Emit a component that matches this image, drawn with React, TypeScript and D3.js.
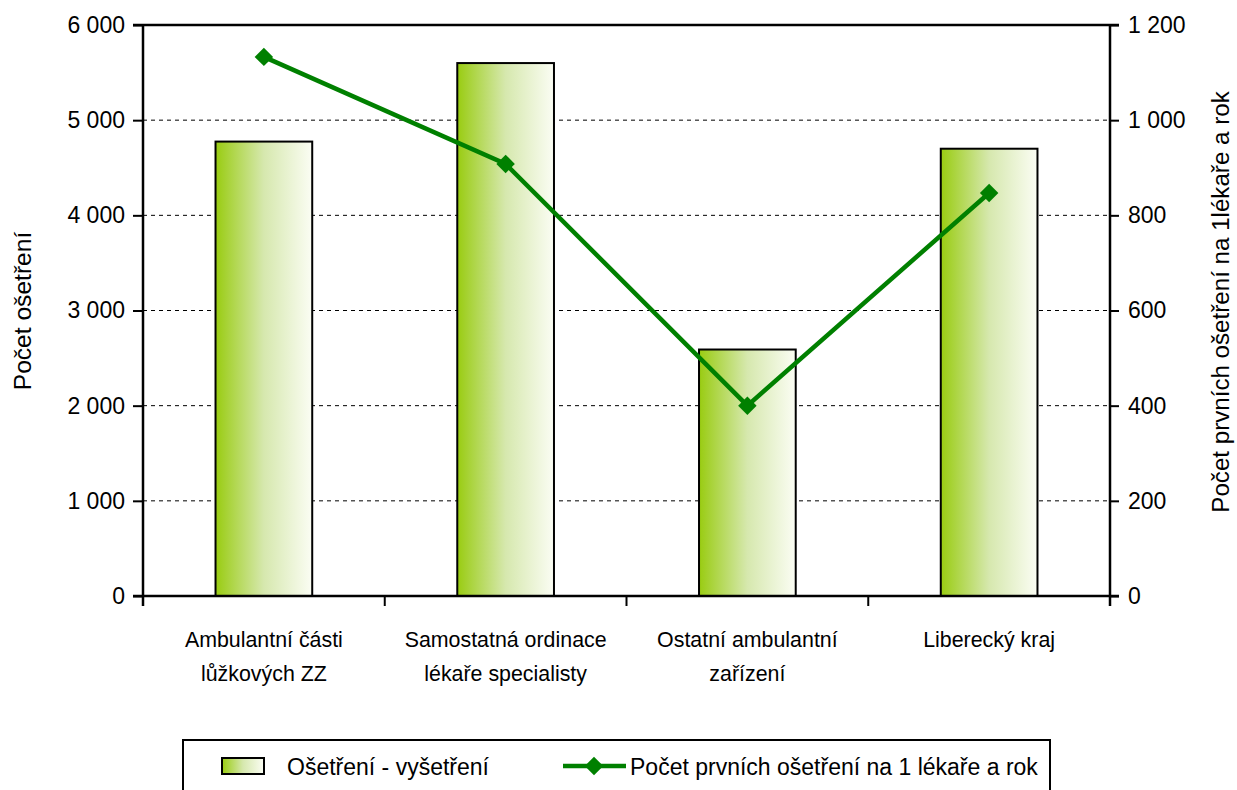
import { useRef, useEffect } from 'react';
import * as d3 from 'd3';

const categories = [
  ['Ambulantní části', 'lůžkových ZZ'],
  ['Samostatná ordinace', 'lékaře specialisty'],
  ['Ostatní ambulantní', 'zařízení'],
  ['Liberecký kraj'],
];
const treatments = [4775, 5600, 2590, 4700];
const firstPerDoctor = [1133, 908, 400, 847];
const leftTicks = [0, 1000, 2000, 3000, 4000, 5000, 6000];
const rightTicks = [0, 200, 400, 600, 800, 1000, 1200];

const FONT = '"Liberation Sans", Arial, sans-serif';
const fmt = (v: number) => d3.format(',')(v).replace(/,/g, ' ');

export default function App() {
  const svgRef = useRef<SVGSVGElement>(null);

  useEffect(() => {
    const width = 1237;
    const height = 790;
    const margin = { top: 25, right: 127, bottom: 194, left: 143 };
    const innerWidth = width - margin.left - margin.right;
    const innerHeight = height - margin.top - margin.bottom;

    const svg = d3.select(svgRef.current);
    svg.selectAll('*').remove();
    svg.attr('viewBox', `0 0 ${width} ${height}`);

    const defs = svg.append('defs');
    const grad = defs.append('linearGradient').attr('id', 'barGrad')
      .attr('x1', '0%').attr('x2', '100%').attr('y1', '0%').attr('y2', '0%');
    grad.append('stop').attr('offset', '0%').attr('stop-color', '#99cc11');
    grad.append('stop').attr('offset', '50%').attr('stop-color', '#d6e8ae');
    grad.append('stop').attr('offset', '100%').attr('stop-color', '#fbfdf4');

    const g = svg.append('g').attr('transform', `translate(${margin.left},${margin.top})`);

    const idx = categories.map((_, i) => String(i));
    const x = d3.scaleBand().domain(idx).range([0, innerWidth]);
    const y = d3.scaleLinear().domain([0, 6000]).range([innerHeight, 0]);
    const y2 = d3.scaleLinear().domain([0, 1200]).range([innerHeight, 0]);

    // gridlines
    g.selectAll('.grid')
      .data(leftTicks.filter(t => t > 0 && t < 6000))
      .enter().append('line')
      .attr('x1', 0).attr('x2', innerWidth)
      .attr('y1', d => y(d)).attr('y2', d => y(d))
      .attr('stroke', '#000').attr('stroke-width', 1)
      .attr('stroke-dasharray', '4,4');
    g.append('line')
      .attr('x1', -10).attr('x2', innerWidth + 9)
      .attr('y1', y(6000)).attr('y2', y(6000))
      .attr('stroke', '#000').attr('stroke-width', 2.5);

    // bars
    const barW = x.bandwidth() * 0.4;
    g.selectAll('.bar')
      .data(treatments)
      .enter().append('rect')
      .attr('x', (d, i) => (x(String(i)) as number) + (x.bandwidth() - barW) / 2)
      .attr('y', d => y(d))
      .attr('width', barW)
      .attr('height', d => innerHeight - y(d))
      .attr('fill', 'url(#barGrad)')
      .attr('stroke', '#000').attr('stroke-width', 2);

    // axes
    const leftAxis = g.append('g')
      .call(d3.axisLeft(y).tickValues(leftTicks).tickFormat(d => fmt(+d)).tickSize(10).tickPadding(8));
    const rightAxis = g.append('g').attr('transform', `translate(${innerWidth},0)`)
      .call(d3.axisRight(y2).tickValues(rightTicks).tickFormat(d => fmt(+d)).tickSize(9).tickPadding(9));
    const bottomAxis = g.append('g').attr('transform', `translate(0,${innerHeight})`)
      .call(d3.axisBottom(x).tickSize(0).tickFormat(() => ''));
    bottomAxis.selectAll('.tick').remove();
    bottomAxis.selectAll('.bx')
      .data(d3.range(categories.length + 1))
      .enter().append('line')
      .attr('x1', i => i * x.step()).attr('x2', i => i * x.step())
      .attr('y1', 0).attr('y2', 10)
      .attr('stroke', '#000').attr('stroke-width', 2);

    [leftAxis, rightAxis, bottomAxis].forEach(a => {
      a.select('.domain').attr('stroke', '#000').attr('stroke-width', 2.5);
      a.selectAll('.tick line').attr('stroke', '#000').attr('stroke-width', 2);
      a.selectAll('text').attr('fill', '#000')
        .style('font-family', FONT).style('font-size', '23px');
    });
    leftAxis.select('.domain').attr('d', `M0,${innerHeight + 10}V0`);
    rightAxis.select('.domain').attr('d', `M0,${innerHeight + 10}V0`);
    bottomAxis.select('.domain').attr('d', `M-10,0H${innerWidth + 9}`);

    // category labels (slightly condensed)
    const sx = 0.93;
    categories.forEach((lines, i) => {
      const t = g.append('text')
        .attr('transform', `translate(${(x(String(i)) as number) + x.bandwidth() / 2},${innerHeight + 51}) scale(${sx},1)`)
        .attr('text-anchor', 'middle')
        .style('font-family', FONT).style('font-size', '23px');
      lines.forEach((l, j) => {
        t.append('tspan')
          .attr('x', 0)
          .attr('dy', j === 0 ? 0 : 34)
          .text(l);
      });
    });

    // line series
    const cx = (i: number) => (x(String(i)) as number) + x.bandwidth() / 2;
    const line = d3.line<number>().x((d, i) => cx(i)).y(d => y2(d));
    g.append('path')
      .datum(firstPerDoctor)
      .attr('d', line)
      .attr('fill', 'none')
      .attr('stroke', '#008000')
      .attr('stroke-width', 4.5);
    const diamond = d3.symbol().type(d3.symbolSquare).size(170);
    g.selectAll('.pt')
      .data(firstPerDoctor)
      .enter().append('path')
      .attr('d', diamond)
      .attr('transform', (d, i) => `translate(${cx(i)},${y2(d)}) rotate(45)`)
      .attr('fill', '#008000');

    // axis titles
    svg.append('text')
      .attr('transform', `translate(31,311) rotate(-90) scale(1.07,1)`)
      .attr('text-anchor', 'middle')
      .style('font-family', FONT).style('font-size', '23px')
      .text('Počet ošetření');
    svg.append('text')
      .attr('transform', `translate(1229,302) rotate(-90) scale(1.05,1)`)
      .attr('text-anchor', 'middle')
      .style('font-family', FONT).style('font-size', '23px')
      .text('Počet prvních ošetření na 1lékaře a rok');

    // legend
    const lg = svg.append('g');
    lg.append('rect')
      .attr('x', 183).attr('y', 740).attr('width', 867).attr('height', 70)
      .attr('fill', '#fff').attr('stroke', '#000').attr('stroke-width', 2);
    lg.append('rect')
      .attr('x', 222).attr('y', 758).attr('width', 42).attr('height', 16)
      .attr('fill', 'url(#barGrad)').attr('stroke', '#000').attr('stroke-width', 2);
    lg.append('text')
      .attr('x', 287).attr('y', 775)
      .style('font-family', FONT).style('font-size', '23px')
      .text('Ošetření - vyšetření');
    lg.append('line')
      .attr('x1', 563).attr('x2', 626).attr('y1', 766).attr('y2', 766)
      .attr('stroke', '#008000').attr('stroke-width', 4.5);
    lg.append('path')
      .attr('d', diamond)
      .attr('transform', 'translate(594,766) rotate(45)')
      .attr('fill', '#008000');
    lg.append('text')
      .attr('x', 630).attr('y', 775)
      .style('font-family', FONT).style('font-size', '23px')
      .text('Počet prvních ošetření na 1 lékaře a rok');
  }, []);

  return (
    <svg ref={svgRef} width={1237} height={790}
      style={{ position: 'absolute', left: 0, top: 0, display: 'block', background: '#fff' }} />
  );
}
